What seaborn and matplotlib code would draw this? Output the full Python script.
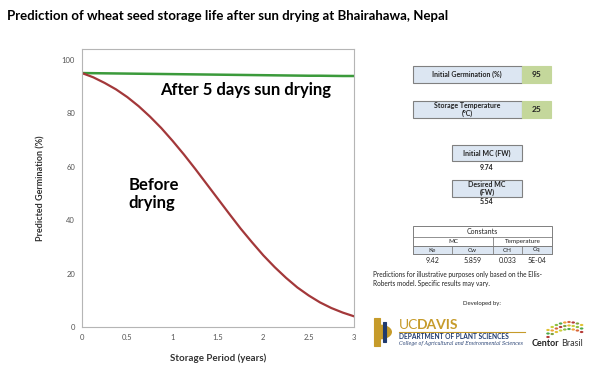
import matplotlib
matplotlib.use("Agg")
import matplotlib.pyplot as plt
import matplotlib.patches as patches
import seaborn as sns

# Storage period (years) and predicted germination (%)
years = [0, 0.125, 0.25, 0.375, 0.5, 0.625, 0.75, 0.875, 1.0, 1.125, 1.25, 1.375, 1.5,
         1.625, 1.75, 1.875, 2.0, 2.125, 2.25, 2.375, 2.5, 2.625, 2.75, 2.875, 3.0]
germ_before = [95.0, 93.4, 91.3, 88.9, 86.0, 82.6, 78.7, 74.4, 69.6, 64.5, 59.1, 53.5, 47.9,
               42.3, 36.8, 31.7, 26.8, 22.4, 18.4, 14.8, 11.8, 9.2, 7.1, 5.4, 4.0]
germ_after = [95.0, 94.95, 94.9, 94.85, 94.8, 94.75, 94.7, 94.65, 94.6, 94.55, 94.5, 94.45, 94.4,
              94.35, 94.3, 94.25, 94.2, 94.15, 94.1, 94.05, 94.0, 94.0, 93.95, 93.9, 93.9]

x_ticks = [0, 0.5, 1, 1.5, 2, 2.5, 3]
x_tick_labels = ["0", "0.5", "1", "1.5", "2", "2.5", "3"]
y_ticks = [0, 20, 40, 60, 80, 100]

# side panel values
initial_germination = "95"
storage_temp = "25"
initial_mc = "9.74"
desired_mc = "5.54"
const_names = ["Ke", "Cw", "CH", "Cq"]
const_values = ["9.42", "5.859", "0.033", "5E-04"]

plt.rcParams["font.family"] = ["Lato", "DejaVu Sans"]

fig = plt.figure(figsize=(6, 3.7), dpi=100)
W, H = 600, 370


def fx(px):
    return px / W


def fy(py):
    return 1 - py / H


ax = fig.add_axes([fx(82), fy(327), (354 - 82) / W, (327 - 49) / H])
sns.lineplot(x=years, y=germ_after, ax=ax, color="#3b9a3b", linewidth=1.8)
sns.lineplot(x=years, y=germ_before, ax=ax, color="#a3383a", linewidth=1.6)
ax.set_xlim(0, 3)
ax.set_ylim(0, 104)
ax.set_xticks(x_ticks)
ax.set_xticklabels(x_tick_labels)
ax.set_yticks(y_ticks)
ax.tick_params(labelsize=5.5, colors="#555555", length=0, pad=5)
for s in ax.spines.values():
    s.set_color("#b5b5b5")
    s.set_linewidth(0.8)
ax.set_xlabel("Storage Period (years)", fontsize=7, fontweight="bold", color="#333333", labelpad=9)
ax.set_ylabel("Predicted Germination (%)", fontsize=6.5, fontweight="bold", color="#333333", labelpad=12)

ax.text(0.86, 88.5, "After 5 days sun drying", fontsize=12, fontweight="bold", va="center")
ax.text(0.51, 56, "Before\ndrying", fontsize=12, fontweight="bold", va="top", linespacing=1.15)

fig.text(fx(7), fy(16), "Prediction of wheat seed storage life after sun drying at Bhairahawa, Nepal",
         fontsize=9.5, fontweight="bold", va="center")


def box(x0, y0, x1, y1, fc, ec="#808080", lw=0.8):
    fig.patches.append(patches.Rectangle((fx(x0), fy(y1)), fx(x1) - fx(x0), fy(y0) - fy(y1),
                                         transform=fig.transFigure, facecolor=fc,
                                         edgecolor=ec, linewidth=lw))


def label(x, y, s, size=5, weight="bold", color="#222222", ha="center", **kw):
    fig.text(fx(x), fy(y), s, fontsize=size, fontweight=weight, color=color, ha=ha, va="center", **kw)


blue = "#dce6f2"
green = "#c4d79b"

box(413, 66, 522, 83, blue)
label(467, 74.5, "Initial Germination (%)")
box(522, 66, 551, 83, green, ec=green)
label(536.5, 74.5, initial_germination, size=6)

box(413, 101, 522, 118, blue)
label(467, 109.5, "Storage Temperature\n(\u00b0C)", linespacing=1.0)
box(522, 101, 551, 118, green, ec=green)
label(536.5, 109.5, storage_temp, size=6)

box(452, 145, 522, 161, blue)
label(487, 153, "Initial MC (FW)")
label(487, 167, initial_mc, size=5)

box(452, 180, 522, 197, blue)
label(487, 188.5, "Desired MC\n(FW)", linespacing=1.0)
label(487, 202, desired_mc, size=5)

# constants table
line_c = "#7f7f7f"
box(413, 226, 552, 254, "white", ec=line_c, lw=0.7)
box(413, 246, 552, 254, blue, ec=line_c, lw=0.7)
for y in [237, 246]:
    fig.add_artist(plt.Line2D([fx(413), fx(552)], [fy(y), fy(y)], color=line_c, lw=0.6))
fig.add_artist(plt.Line2D([fx(493), fx(493)], [fy(237), fy(254)], color=line_c, lw=0.6))
for xc in [452, 522]:
    fig.add_artist(plt.Line2D([fx(xc), fx(xc)], [fy(246), fy(254)], color=line_c, lw=0.6))
label(482.5, 231.5, "Constants", weight="normal")
label(453, 241.5, "MC", weight="normal", size=4.5)
label(522.5, 241.5, "Temperature", weight="normal", size=4.5)
col_centers = [432.5, 472.5, 507.5, 537]
for cx, name, val in zip(col_centers, const_names, const_values):
    label(cx, 250, name, weight="normal", size=4.5)
    label(cx, 260.5, val, weight="normal", size=5)

fig.text(fx(373), fy(279), "Predictions for illustrative purposes only based on the Ellis-\nRoberts model. Specific results may vary.",
         fontsize=4.7, color="#222222", va="center", linespacing=1.3)
label(482, 304, "Developed by:", weight="normal", size=4.3)

# UC Davis logo (approximation)
gold = "#c69b2a"
navy = "#1f3a6e"
box(374, 318, 380, 346, gold, ec=gold)
fig.patches.append(patches.Wedge((fx(380), fy(332)), 0.02, -90, 90, transform=fig.transFigure,
                                 facecolor=gold, edgecolor="none"))
box(383, 322, 386, 342, navy, ec=navy)
fig.text(fx(399), fy(325), "UC", fontsize=10, color=gold, va="center")
fig.text(fx(417), fy(325), "DAVIS", fontsize=10, color=gold, fontweight="bold", va="center")
fig.add_artist(plt.Line2D([fx(399), fx(525)], [fy(332), fy(332)], color=gold, lw=0.8))
fig.text(fx(399), fy(336.5), "DEPARTMENT OF PLANT SCIENCES", fontsize=4.8, color=navy, fontweight="bold", va="center")
fig.text(fx(399), fy(343), "College of Agricultural and Environmental Sciences", fontsize=3.4, color=navy,
         style="italic", va="center", family="DejaVu Serif")

# Centor Brasil logo (approximation)
dot_colors = ["#e2c233", "#c9cf3a", "#8cbf3f", "#4ea84a", "#f0a33a", "#d8663a", "#b53a35", "#7fa33d"]
arc_y = [330, 327, 325, 323.5, 322.5, 322, 322.5, 323.5, 325]
for i, ay in enumerate(arc_y):
    for r in range(3):
        fig.patches.append(patches.Circle((fx(548 + i * 4.2), fy(ay + r * 3.5)), 0.003,
                                          transform=fig.transFigure,
                                          facecolor=dot_colors[(i + r * 3) % 8], edgecolor="none"))
fig.text(fx(532), fy(344), "Centor", fontsize=6.5, fontweight="bold", color="#222222", va="center")
fig.text(fx(561), fy(344), "Brasil", fontsize=6.5, color="#333333", va="center")

fig.savefig("out.png", dpi=100)
